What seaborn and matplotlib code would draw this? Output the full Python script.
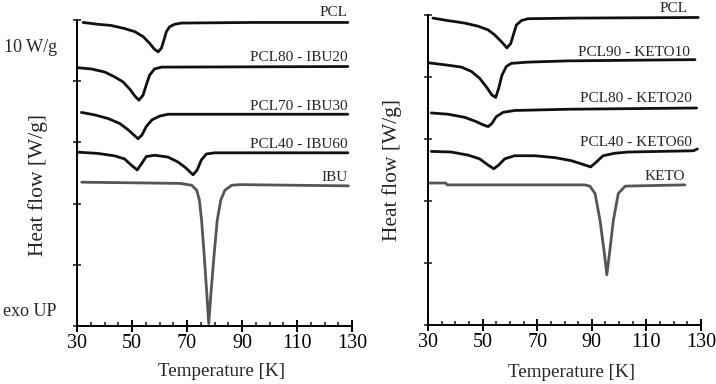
import numpy as np
import pandas as pd
import matplotlib
matplotlib.use("Agg")
import matplotlib.pyplot as plt
import seaborn as sns
from matplotlib.ticker import MultipleLocator

sns.set_style("ticks")
plt.rcParams['font.family'] = ['Liberation Serif', 'DejaVu Serif']

# ---------------- data (temperature, heat flow with offsets) ----------------
pcl_l_x = [32.2, 37.6, 42.5, 47.3, 51.0, 54.0, 56.4, 58.2, 59.5, 60.7, 61.6, 62.5, 63.7, 65.5, 67.9, 94.0, 128.5]
pcl_l_y = [49.6, 49.3, 49.1, 48.6, 48.1, 47.3, 46.2, 45.2, 44.8, 45.4, 46.7, 48.1, 48.9, 49.3, 49.5, 49.6, 49.6]

ibu20_x = [30.4, 35.2, 40.1, 43.7, 46.7, 49.2, 51.0, 52.5, 54.0, 55.2, 56.4, 58.2, 60.7, 128.5]
ibu20_y = [42.2, 42.0, 41.5, 40.7, 39.9, 38.7, 37.6, 36.9, 37.7, 39.4, 41.0, 42.0, 42.3, 42.4]

ibu30_x = [31.6, 36.4, 41.3, 45.5, 48.5, 50.7, 52.2, 53.6, 55.2, 57.3, 60.1, 63.1, 128.5]
ibu30_y = [34.9, 34.5, 33.9, 33.1, 32.1, 31.2, 30.6, 31.2, 32.6, 33.7, 34.3, 34.6, 34.6]

ibu60_x = [30.4, 37.6, 43.7, 47.3, 49.7, 51.9, 53.6, 55.2, 58.3, 63.1, 66.7, 69.4, 72.2, 73.7, 75.2, 77.0, 80.1, 128.5]
ibu60_y = [28.4, 28.2, 27.8, 27.3, 26.3, 25.5, 26.6, 27.7, 27.9, 27.6, 26.8, 25.9, 24.7, 25.5, 27.1, 28.1, 28.3, 28.3]

ibu_x = [31.7, 67.5, 71.7, 73.5, 74.5, 75.3, 76.2, 77.2, 77.9, 78.7, 79.9, 81.0, 82.3, 83.8, 86.3, 89.3, 128.7]
ibu_y = [23.5, 23.3, 23.0, 22.2, 20.6, 17.3, 11.9, 5.3, 0.4, 5.3, 11.9, 17.3, 20.6, 22.2, 23.0, 23.1, 22.9]

pcl_r_x = [31.8, 37.3, 43.4, 48.3, 52.0, 54.4, 56.9, 58.9, 60.3, 61.4, 62.4, 64.2, 66.6, 83.2, 129.0]
pcl_r_y = [49.5, 49.1, 48.7, 48.2, 47.6, 46.8, 45.7, 44.7, 45.4, 47.0, 48.4, 49.1, 49.4, 49.5, 49.6]

keto10_x = [30.1, 37.3, 42.2, 45.9, 48.9, 51.4, 53.4, 54.8, 55.9, 57.1, 58.7, 60.5, 66.6, 81.3, 127.8]
keto10_y = [42.3, 41.9, 41.6, 40.9, 39.8, 38.4, 37.1, 36.7, 38.2, 40.3, 41.7, 42.2, 42.4, 42.6, 42.8]

keto20_x = [31.2, 37.3, 43.4, 47.7, 50.1, 52.0, 53.4, 55.0, 57.5, 61.7, 81.3, 128.4]
keto20_y = [34.2, 34.0, 33.5, 32.8, 32.3, 32.0, 32.5, 33.6, 34.3, 34.6, 34.8, 35.0]

keto60_x = [31.2, 38.5, 44.7, 48.9, 52.0, 54.1, 55.9, 58.1, 61.7, 69.1, 76.4, 82.5, 86.8, 89.6, 91.7, 94.1, 98.4, 103.3, 127.2, 128.7]
keto60_y = [28.0, 27.9, 27.4, 26.8, 25.8, 25.2, 25.8, 26.8, 27.3, 27.3, 27.0, 26.5, 25.9, 25.5, 26.3, 27.3, 27.7, 27.9, 28.1, 28.4]

keto_x = [30.1, 36.5, 37.0, 87.4, 89.3, 91.2, 93.0, 94.6, 95.5, 96.5, 97.9, 99.7, 102.2, 124.1]
keto_y = [22.9, 22.9, 22.6, 22.6, 22.4, 21.2, 16.9, 11.6, 8.1, 11.6, 16.9, 21.2, 22.4, 22.6]

left_labels = ["PCL", "PCL80 - IBU20", "PCL70 - IBU30", "PCL40 - IBU60", "IBU"]
left_label_y = [51.2, 43.8, 35.8, 29.6, 24.2]
right_labels = ["PCL", "PCL90 - KETO10", "PCL80 - KETO20", "PCL40 - KETO60", "KETO"]
right_label_y = [51.1, 43.9, 36.5, 29.4, 24.0]
right_label_x = [125.2, 126.0, 126.7, 126.7, 124.1]

x_ticks = [30, 50, 70, 90, 110, 130]

# ---------------- figure ----------------
fig = plt.figure(figsize=(7.16, 3.84), dpi=100)
axL = fig.add_axes([77/716, 58/384, 275/716, 306/384])
axR = fig.add_axes([428/716, 59/384, 273/716, 310/384])

BLACK = "#111111"
GRAY = "#555555"

def draw(ax, curves):
    for xs, ys, col in curves:
        df = pd.DataFrame({"T": xs, "H": ys})
        sns.lineplot(data=df, x="T", y="H", ax=ax, color=col, lw=2.0,
                     sort=False, estimator=None, legend=False)
    for ln in ax.lines:
        ln.set_solid_joinstyle("round")

draw(axL, [(pcl_l_x, pcl_l_y, BLACK), (ibu20_x, ibu20_y, BLACK), (ibu30_x, ibu30_y, BLACK),
           (ibu60_x, ibu60_y, BLACK), (ibu_x, ibu_y, GRAY)])
draw(axR, [(pcl_r_x, pcl_r_y, BLACK), (keto10_x, keto10_y, BLACK), (keto20_x, keto20_y, BLACK),
           (keto60_x, keto60_y, BLACK), (keto_x, keto_y, GRAY)])

for lab, yy in zip(left_labels, left_label_y):
    axL.text(128.5, yy, lab, ha="right", va="center", fontsize=11, clip_on=False)
for lab, xx, yy in zip(right_labels, right_label_x, right_label_y):
    axR.text(xx, yy, lab, ha="right", va="center", fontsize=11, clip_on=False)

for ax in (axL, axR):
    ax.set_xlim(30, 130)
    ax.set_ylim(0, 50)
    ax.set_xticks(x_ticks)
    ax.xaxis.set_minor_locator(MultipleLocator(5))
    ax.set_yticks([0, 10, 20, 30, 40, 50])
    ax.set_yticklabels([])
    for s in ("top", "right"):
        ax.spines[s].set_visible(False)
    for s in ("left", "bottom"):
        ax.spines[s].set_linewidth(1.4)
        ax.spines[s].set_color("black")
    ax.tick_params(axis="x", which="major", direction="inout", length=8, width=1.4,
                   labelsize=14.5, pad=2, colors="black")
    ax.tick_params(axis="x", which="minor", direction="in", length=3, width=1.2)
    ax.tick_params(axis="y", which="major", direction="inout", length=6, width=1.2)
    ax.set_xlabel("Temperature [K]", fontsize=13.7)
    ax.set_ylabel("Heat flow [W/g]", fontsize=15.5)
    ax.patch.set_alpha(0)

axL.xaxis.set_label_coords(0.524, -0.150)
axR.xaxis.set_label_coords(0.527, -0.152)
axL.yaxis.set_label_coords(-0.142, 0.461)
axR.yaxis.set_label_coords(-0.132, 0.50)
for ax in (axL, axR):
    ax.xaxis.label.set_va("center")
    ax.yaxis.label.set_va("center")

fig.text(31/716, 1 - 47/384, "10 W/g", ha="center", va="center", fontsize=13)
fig.text(30/716, 1 - 312/384, "exo UP", ha="center", va="center", fontsize=13)

fig.savefig("out.png", dpi=100)
